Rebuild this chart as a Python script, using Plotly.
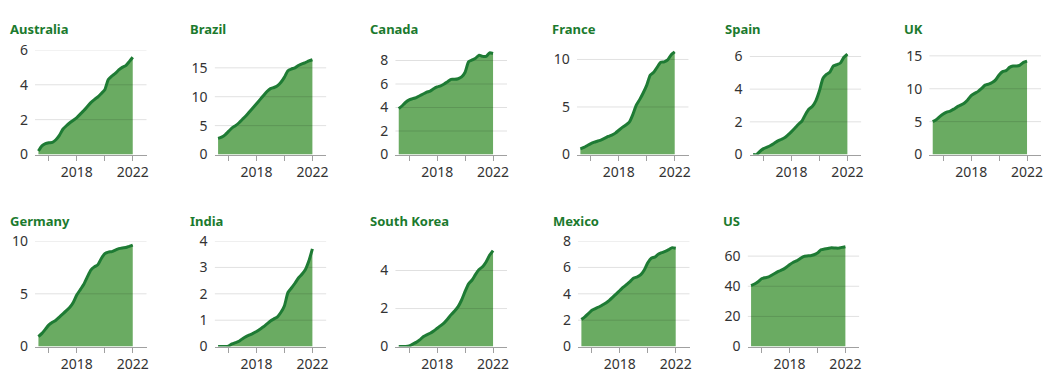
import plotly.graph_objects as go

# ---------------- data ----------------
quarters = [2015.25, 2015.5, 2015.75, 2016.0, 2016.25, 2016.5, 2016.75,
            2017.0, 2017.25, 2017.5, 2017.75, 2018.0, 2018.25, 2018.5,
            2018.75, 2019.0, 2019.25, 2019.5, 2019.75, 2020.0, 2020.25,
            2020.5, 2020.75, 2021.0, 2021.25, 2021.5, 2021.75, 2022.0]

australia = [0.2, 0.5, 0.62, 0.67, 0.7, 0.85, 1.1, 1.45, 1.65, 1.82, 1.97, 2.12, 2.32, 2.52,
             2.75, 2.98, 3.15, 3.3, 3.5, 3.72, 4.3, 4.5, 4.65, 4.85, 5.0, 5.1, 5.33, 5.58]
brazil = [2.8, 3.0, 3.4, 4.0, 4.6, 5.0, 5.5, 6.1, 6.7, 7.4, 8.1, 8.8, 9.5, 10.2,
          10.9, 11.4, 11.6, 11.9, 12.5, 13.4, 14.5, 14.8, 15.0, 15.4, 15.7, 15.9, 16.2, 16.4]
canada = [3.9, 4.15, 4.45, 4.65, 4.75, 4.85, 5.0, 5.15, 5.3, 5.4, 5.6, 5.75, 5.85, 6.0,
          6.2, 6.4, 6.4, 6.45, 6.6, 7.0, 7.9, 8.05, 8.2, 8.45, 8.35, 8.35, 8.65, 8.6]
france = [0.6, 0.75, 0.95, 1.15, 1.3, 1.42, 1.55, 1.72, 1.9, 2.05, 2.25, 2.55, 2.85, 3.1,
          3.4, 4.2, 5.2, 5.8, 6.5, 7.3, 8.35, 8.65, 9.2, 9.7, 9.75, 9.95, 10.5, 10.8]
spain = [0.0, 0.0, 0.2, 0.36, 0.45, 0.55, 0.68, 0.82, 0.92, 1.02, 1.2, 1.4, 1.62, 1.85,
         2.05, 2.45, 2.78, 2.95, 3.3, 3.9, 4.65, 4.9, 5.05, 5.42, 5.5, 5.6, 5.95, 6.15]
uk = [5.0, 5.3, 5.75, 6.15, 6.45, 6.6, 6.9, 7.25, 7.5, 7.8, 8.3, 8.95, 9.3, 9.6,
      10.05, 10.55, 10.7, 10.95, 11.35, 12.1, 12.6, 12.75, 13.25, 13.45, 13.45, 13.6, 14.0, 14.2]
germany = [0.95, 1.25, 1.65, 2.05, 2.3, 2.5, 2.8, 3.1, 3.4, 3.72, 4.2, 4.9, 5.4, 5.9,
           6.6, 7.25, 7.55, 7.75, 8.35, 8.8, 8.95, 9.0, 9.15, 9.28, 9.35, 9.38, 9.5, 9.62]
india = [0.0, 0.0, 0.0, 0.02, 0.1, 0.15, 0.2, 0.3, 0.38, 0.44, 0.5, 0.57, 0.66, 0.75,
         0.86, 0.97, 1.05, 1.13, 1.3, 1.55, 2.05, 2.22, 2.4, 2.6, 2.74, 2.92, 3.25, 3.7]
south_korea = [0.0, 0.0, 0.0, 0.03, 0.13, 0.22, 0.35, 0.52, 0.62, 0.7, 0.82, 0.96, 1.1, 1.25,
               1.45, 1.68, 1.87, 2.1, 2.45, 2.9, 3.3, 3.5, 3.8, 4.05, 4.2, 4.45, 4.8, 5.05]
mexico = [2.05, 2.25, 2.5, 2.75, 2.88, 3.0, 3.15, 3.3, 3.5, 3.75, 4.0, 4.25, 4.5, 4.72,
          4.95, 5.2, 5.28, 5.45, 5.8, 6.35, 6.7, 6.78, 7.0, 7.12, 7.22, 7.35, 7.5, 7.45]
us = [40.5, 41.5, 43.0, 45.0, 45.7, 46.2, 47.5, 48.8, 50.0, 51.0, 52.5, 54.3, 55.8, 56.8,
      58.3, 59.7, 60.1, 60.3, 60.9, 62.0, 64.2, 64.7, 65.1, 65.5, 65.4, 65.3, 65.8, 66.2]

countries = ["Australia", "Brazil", "Canada", "France", "Spain", "UK",
             "Germany", "India", "South Korea", "Mexico", "US"]
values = [australia, brazil, canada, france, spain, uk,
          germany, india, south_korea, mexico, us]
y_ticks = [[0, 2, 4, 6], [0, 5, 10, 15], [0, 2, 4, 6, 8], [0, 5, 10], [0, 2, 4, 6],
           [0, 5, 10, 15], [0, 5, 10], [0, 1, 2, 3, 4], [0, 2, 4], [0, 2, 4, 6, 8],
           [0, 20, 40, 60]]
y_max = [6, 18.1, 8.9, 11, 6.4, 15.9, 10, 4, 5.55, 8, 70]
x_ticks = [2016, 2018, 2020, 2022]
x_ticktext = ["", "2018", "", "2022"]
x_range = [2015, 2023]

# ---------------- layout geometry (pixels) ----------------
W, H = 1053, 386
panel_left = [35, 215, 396, 578, 751, 931, 35, 215, 396, 579, 749]
panel_width = 112
row_top = [42, 243]
row_bottom = [152, 354]
title_y = [20, 222]

FILL = "#6aab62"
LINE = "#1e7b34"
TITLE = "#1b7a2e"
TEXT = "#333333"
FONT = "Noto Sans"

fig = go.Figure()
layout = dict(
    width=W, height=H, margin=dict(l=0, r=0, t=0, b=0),
    paper_bgcolor="white", plot_bgcolor="white", showlegend=False,
    font=dict(family=FONT, size=14, color=TEXT),
    annotations=[],
)

for i, (name, vals) in enumerate(zip(countries, values)):
    row = 0 if i < 6 else 1
    n = i + 1
    xa = "x" if n == 1 else f"x{n}"
    ya = "y" if n == 1 else f"y{n}"
    # filled area
    fig.add_trace(go.Scatter(x=quarters, y=vals, mode="lines", fill="tozeroy",
                             fillcolor=FILL, line=dict(width=0, color=FILL, shape="spline", smoothing=0.6),
                             xaxis=xa, yaxis=ya, hoverinfo="skip"))
    # gridlines drawn over the fill, under the line
    for t in y_ticks[i][1:]:
        fig.add_trace(go.Scatter(x=x_range, y=[t, t], mode="lines",
                                 line=dict(width=1, color="rgba(0,0,0,0.12)"),
                                 xaxis=xa, yaxis=ya, hoverinfo="skip"))
    # outline
    fig.add_trace(go.Scatter(x=quarters, y=vals, mode="lines",
                             line=dict(width=3, color=LINE, shape="spline", smoothing=0.6),
                             xaxis=xa, yaxis=ya))
    x0 = panel_left[i]
    layout["xaxis" if n == 1 else f"xaxis{n}"] = dict(
        domain=[x0 / W, (x0 + panel_width) / W], anchor=ya, range=x_range,
        tickvals=x_ticks, ticktext=x_ticktext, ticks="outside", ticklen=5,
        tickcolor="#a0a0a0", tickwidth=1, showline=True, linecolor="#a0a0a0",
        linewidth=1, showgrid=False, zeroline=False, fixedrange=True,
        tickfont=dict(size=14, color=TEXT),
    )
    layout["yaxis" if n == 1 else f"yaxis{n}"] = dict(
        domain=[1 - row_bottom[row] / H, 1 - row_top[row] / H], anchor=xa,
        range=[0, y_max[i]], tickvals=y_ticks[i], showgrid=False,
        zeroline=False, showline=False, ticks="", ticklabelstandoff=6,
        tickfont=dict(size=14, color=TEXT), fixedrange=True,
    )
    layout["annotations"].append(dict(
        text=f"<b>{name}</b>", x=(x0 - 27) / W, y=1 - title_y[row] / H,
        xref="paper", yref="paper", xanchor="left", yanchor="middle",
        showarrow=False, font=dict(family=FONT, size=13, color=TITLE),
    ))

fig.update_layout(**layout)
fig.write_html("out.html", config={"displayModeBar": False},
               post_script="document.body.style.margin='0';document.body.style.overflow='hidden';")
